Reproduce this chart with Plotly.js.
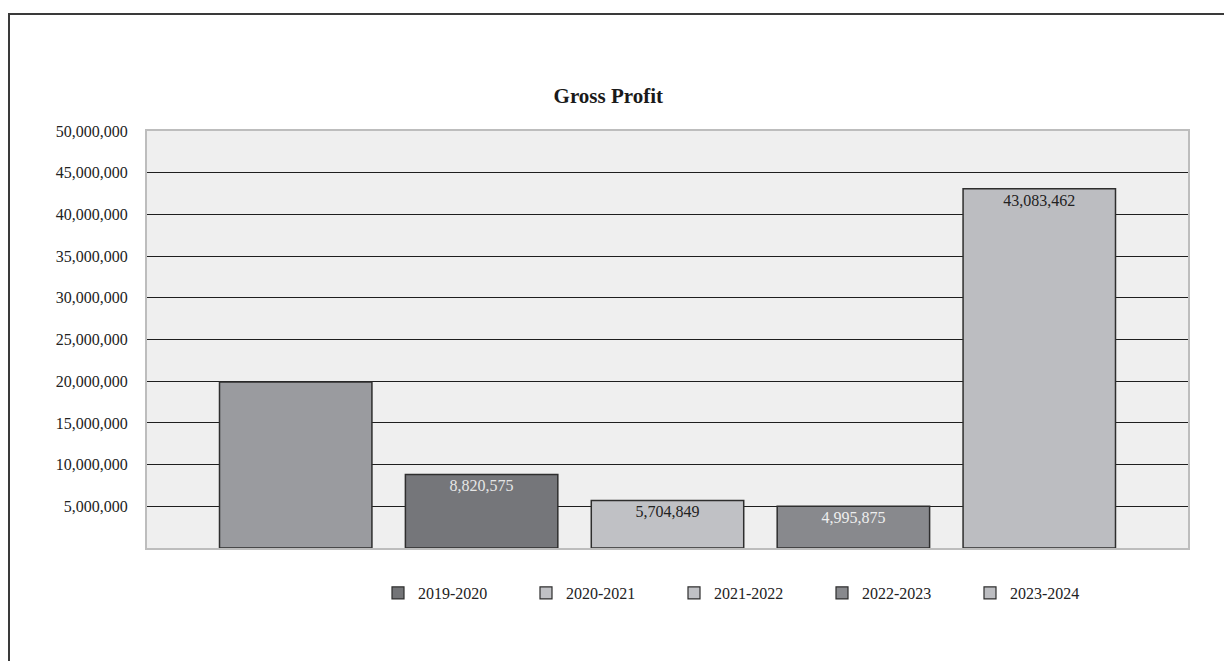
<!DOCTYPE html>
<html>
<head>
<meta charset="utf-8">
<script src="https://cdn.plot.ly/plotly-3.0.1.min.js"></script>
<style>
  html, body { margin: 0; padding: 0; background: #ffffff; overflow: hidden; }
  #wrap { position: relative; width: 1224px; height: 661px; }
  #chart { width: 1224px; height: 661px; }
  #frame { position: absolute; left: 8px; top: 13px; width: 1400px; height: 800px;
           border-left: 2px solid #3a3a3a; border-top: 2px solid #3a3a3a; pointer-events: none; }
</style>
</head>
<body>
<div id="wrap">
  <div id="chart"></div>
  <div id="frame"></div>
</div>
<script>
// ---- data ----
const barSlots   = ['Bar 1', 'Bar 2', 'Bar 3', 'Bar 4', 'Bar 5'];
const barValues  = [19900000, 8820575, 5704849, 4995875, 43083462];
const barLabels  = ['', '8,820,575', '5,704,849', '4,995,875', '43,083,462'];
const barColors  = ['#9a9b9f', '#75767a', '#c0c1c5', '#88898d', '#bcbdc1'];
const labelColors = ['#ffffff', '#e6e6e6', '#222222', '#eeeeee', '#222222'];

const legendNames  = ['2019-2020', '2020-2021', '2021-2022', '2022-2023', '2023-2024'];
const legendColors = ['#737477', '#c0c1c5', '#c0c1c5', '#88898d', '#bcbdc1'];

const yTickVals = [5000000, 10000000, 15000000, 20000000, 25000000, 30000000, 35000000, 40000000, 45000000, 50000000];
const yTickText = ['5,000,000', '10,000,000', '15,000,000', '20,000,000', '25,000,000', '30,000,000', '35,000,000', '40,000,000', '45,000,000', '50,000,000'];

const FONT = 'Liberation Serif, Times New Roman, serif';

const traces = [{
  type: 'bar',
  x: barSlots,
  y: barValues,
  text: barLabels,
  textposition: 'inside',
  insidetextanchor: 'end',
  textangle: 0,
  insidetextfont: { family: FONT, size: 16, color: labelColors },
  marker: { color: barColors, line: { color: '#2e2e2e', width: 1.5 } },
  width: 0.82,
  showlegend: false,
  hoverinfo: 'skip'
}];

legendNames.forEach((n, i) => {
  traces.push({
    type: 'bar',
    x: [barSlots[0]],
    y: [null],
    name: n,
    marker: { color: legendColors[i], line: { color: '#2e2e2e', width: 1.2 } },
    showlegend: true,
    hoverinfo: 'skip'
  });
});

const layout = {
  width: 1224,
  height: 661,
  margin: { l: 147, r: 36, t: 131, b: 113, pad: 0 },
  paper_bgcolor: '#ffffff',
  plot_bgcolor: '#efefef',
  barmode: 'overlay',
  font: { family: FONT, size: 16, color: '#222222' },
  title: {
    text: '<b>Gross Profit</b>',
    font: { family: FONT, size: 21, color: '#1a1a1a' },
    x: 0.497, xref: 'container', xanchor: 'center',
    y: 0.855, yref: 'container', yanchor: 'middle'
  },
  xaxis: {
    type: 'category',
    range: [-0.8, 4.8],
    showticklabels: false,
    showgrid: false,
    zeroline: false,
    ticks: '',
    showline: true,
    mirror: true,
    linecolor: '#bdbdbd',
    linewidth: 2,
    fixedrange: true
  },
  yaxis: {
    range: [0, 50000000],
    tickvals: yTickVals,
    ticktext: yTickText,
    tickfont: { family: FONT, size: 16, color: '#222222' },
    ticks: '',
    ticklabelstandoff: 14,
    showgrid: true,
    gridcolor: '#1e1e1e',
    gridwidth: 1,
    zeroline: false,
    showline: true,
    mirror: true,
    linecolor: '#bdbdbd',
    linewidth: 2,
    fixedrange: true
  },
  showlegend: true,
  legend: {
    orientation: 'h',
    xref: 'container', x: 378 / 1224, xanchor: 'left',
    yref: 'container', y: 1 - 593 / 661, yanchor: 'middle',
    entrywidth: 103,
    entrywidthmode: 'pixels',
    itemwidth: 30,
    font: { family: FONT, size: 16, color: '#222222' },
    bgcolor: 'rgba(0,0,0,0)',
    traceorder: 'normal'
  }
};

Plotly.newPlot('chart', traces, layout, { displayModeBar: false, staticPlot: true });
</script>
</body>
</html>
